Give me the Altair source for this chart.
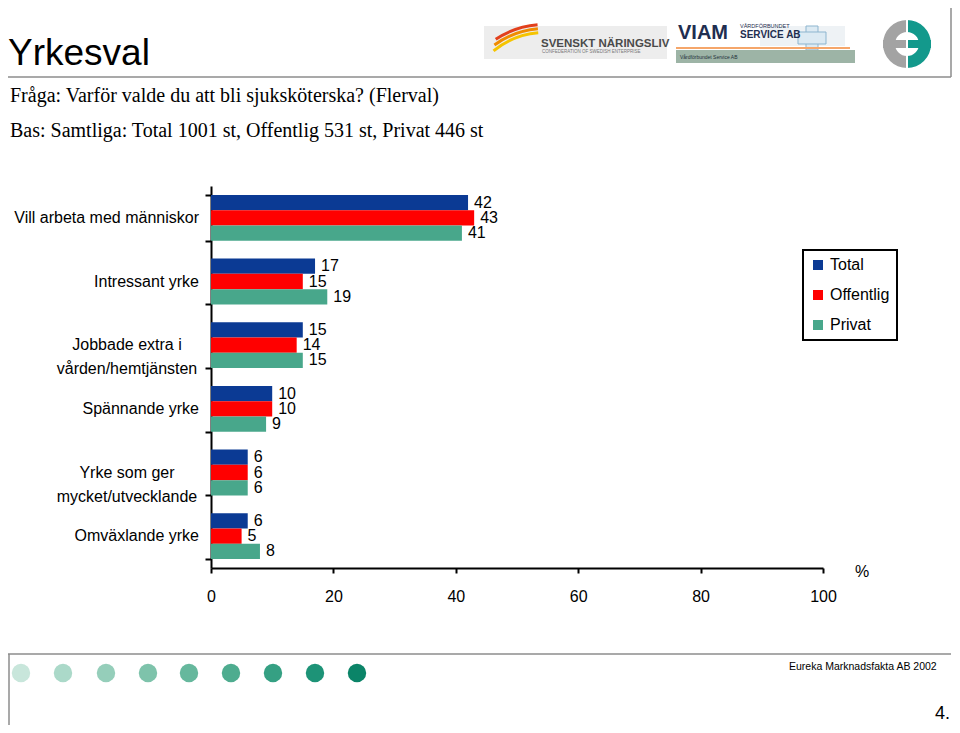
import altair as alt
import pandas as pd

# ---------------- data ----------------
categories = [
    "Vill arbeta med människor",
    "Intressant yrke",
    "Jobbade extra i\nvården/hemtjänsten",
    "Spännande yrke",
    "Yrke som ger\nmycket/utvecklande",
    "Omväxlande yrke",
]
series = ["Total", "Offentlig", "Privat"]
total = [42, 17, 15, 10, 6, 6]
offentlig = [43, 15, 14, 10, 6, 5]
privat = [41, 19, 15, 9, 6, 8]
x_ticks = [0, 20, 40, 60, 80, 100]
series_colors = ["#0B3A94", "#FF0000", "#48A78B"]
dot_colors = ["#C8E6DB", "#ABD9C9", "#95CEBA", "#7EC3AB", "#66B89D",
              "#4EAC8F", "#35A083", "#1D9377", "#0B8468"]

title_text = "Yrkesval"
question_text = "Fråga: Varför valde du att bli sjuksköterska? (Flerval)"
base_text = "Bas: Samtliga: Total 1001 st, Offentlig 531 st, Privat 446 st"
footer_text = "Eureka Marknadsfakta AB 2002"
page_text = "4."

rows = []
for i, c in enumerate(categories):
    for s, vals in zip(series, [total, offentlig, privat]):
        rows.append({"kategori": c, "serie": s, "varde": vals[i]})
df = pd.DataFrame(rows)
cat_df = pd.DataFrame({"kategori": categories,
                       "multi": ["\n" in c for c in categories]})

# ---------------- layout helpers ----------------
OX, OY = 211, 186          # page position of plot origin
W, H = 612, 382
FONT = "Liberation Sans"
one = pd.DataFrame({"t": [""]})


def txt(s, px, py, size, **kw):
    return alt.Chart(pd.DataFrame({"t": [s]})).mark_text(
        fontSize=size, baseline="middle", **kw
    ).encode(x=alt.value(px - OX), y=alt.value(py - OY), text="t:N")


def rule(x1, y1, x2, y2, color="#8C8C8C", w=1.5):
    return alt.Chart(one).mark_rule(color=color, strokeWidth=w).encode(
        x=alt.value(x1 - OX), x2=alt.value(x2 - OX),
        y=alt.value(y1 - OY), y2=alt.value(y2 - OY))


def rect(x1, y1, x2, y2, fill, **kw):
    return alt.Chart(one).mark_rect(fill=fill, **kw).encode(
        x=alt.value(x1 - OX), x2=alt.value(x2 - OX),
        y=alt.value(y1 - OY), y2=alt.value(y2 - OY))


def arc(cx, cy, r_out, r_in, t1, t2, color):
    return alt.Chart(one).mark_arc(
        radius=r_out, radius2=r_in, theta=t1, theta2=t2, color=color
    ).encode(x=alt.value(cx - OX), y=alt.value(cy - OY))


# ---------------- main chart ----------------
y_scale = alt.Scale(domain=categories, paddingInner=0.28, paddingOuter=0.14)
y_axis = alt.Axis(labels=False, title=None, domainColor="black", domainWidth=2,
                  tickColor="black", tickWidth=2, tickSize=6, tickBand="extent",
                  grid=False)
y_enc = alt.Y("kategori:N", scale=y_scale, axis=y_axis, sort=categories)
yoff_enc = alt.YOffset("serie:N", scale=alt.Scale(domain=series), sort=series)
x_enc = alt.X("varde:Q", scale=alt.Scale(domain=[0, 100], nice=False),
              axis=alt.Axis(values=x_ticks, title=None, grid=False,
                            domainColor="black", domainWidth=2,
                            tickColor="black", tickWidth=2, tickSize=5,
                            labelPadding=15, labelFontSize=16,
                            labelFlush=False, labelColor="black"))

bars = alt.Chart(df).mark_bar().encode(
    y=y_enc, yOffset=yoff_enc, x=x_enc,
    color=alt.Color("serie:N", scale=alt.Scale(domain=series, range=series_colors),
                    sort=series,
                    legend=alt.Legend(title=None, orient="none", legendX=592,
                                      legendY=64, symbolType="square",
                                      symbolSize=100, symbolStrokeWidth=0,
                                      labelFontSize=16, labelColor="black",
                                      labelOffset=4, padding=7, rowPadding=14,
                                      strokeColor="black", fillColor="white")),
)

values = alt.Chart(df).mark_text(
    align="left", baseline="middle", dx=6, fontSize=16, color="black"
).encode(y=y_enc, yOffset=yoff_enc, x=x_enc, text="varde:Q")

cat_single = alt.Chart(cat_df).transform_filter("!datum.multi").mark_text(
    align="right", baseline="middle", fontSize=16, color="black"
).encode(y=y_enc, x=alt.value(-12), text="kategori:N")

cat_multi = alt.Chart(cat_df).transform_filter("datum.multi").mark_text(
    align="center", baseline="middle", fontSize=16, color="black",
    lineBreak="\n", lineHeight=24
).encode(y=y_enc, x=alt.value(-84), text="kategori:N")

# ---------------- decorations ----------------
deco = []
# header
deco.append(rule(8, 77, 951, 77))
deco.append(rule(951, 0, 951, 77))
deco.append(txt(title_text, 8, 54, 37, align="left", color="black"))
deco.append(txt(question_text, 10, 96, 20, align="left", font="Liberation Serif",
                color="black"))
deco.append(txt(base_text, 10, 131, 20, align="left", font="Liberation Serif",
                color="black"))

# Svenskt Näringsliv logo
deco.append(rect(484, 26, 667, 59, "#EDEDED"))
deco.append(arc(545, 114, 83, 80, 5.6, 6.2, "#F5C400"))
deco.append(arc(545, 114, 87, 84, 5.65, 6.2, "#F08C00"))
deco.append(arc(545, 114, 91, 88, 5.7, 6.2, "#E2401C"))
deco.append(txt("SVENSKT NÄRINGSLIV", 541, 44, 11.5, align="left",
                fontWeight="bold", color="#4A4A4A"))
deco.append(txt("CONFEDERATION OF SWEDISH ENTERPRISE", 542, 52, 4.5,
                align="left", color="#777777"))

# VIAM logo
deco.append(rect(760, 26, 845, 46, "#EEF2F5"))
deco.append(rect(806, 26, 818, 50, "#DCEAF3", stroke="#8DB5CF", strokeWidth=1))
deco.append(rect(798, 32, 826, 44, "#DCEAF3", stroke="#8DB5CF", strokeWidth=1))
deco.append(rect(807, 33, 817, 43, "#DCEAF3"))
deco.append(rule(676, 48, 850, 48, color="#F5A66A", w=2))
deco.append(rect(676, 50, 855, 63, "#9DB4A6"))
deco.append(txt("Vårdförbundet Service AB", 680, 57, 5, align="left",
                color="#23303A"))
deco.append(txt("VIAM", 678, 33, 20, align="left", fontWeight="bold",
                color="#1F2E50"))
deco.append(txt("VÅRDFÖRBUNDET", 740, 26, 5.5, align="left", color="#1F2E50"))
deco.append(txt("SERVICE AB", 740, 35, 10, align="left", fontWeight="bold",
                color="#1F2E50"))

# Eureka logo
deco.append(arc(907, 44, 24, 12, 3.1416, 6.2832, "#A3A3A3"))
deco.append(arc(907, 44, 24, 12, 0, 3.1416, "#13998C"))
deco.append(rect(883, 40, 906, 48, "#A3A3A3"))
deco.append(rect(908, 40, 931, 48, "#13998C"))
deco.append(rule(907, 19, 907, 69, color="white", w=2))

# % sign
deco.append(txt("%", 862, 572, 16, align="center", color="black"))

# footer
deco.append(rule(8, 654, 951, 654))
deco.append(rule(9, 654, 9, 725))
dot_x = [21, 63, 106, 148, 189, 231, 273, 315, 357]
for cx, col in zip(dot_x, dot_colors):
    deco.append(alt.Chart(one).mark_circle(size=340, color=col, opacity=1).encode(
        x=alt.value(cx - OX), y=alt.value(673 - OY)))
deco.append(txt(footer_text, 789, 667, 10.5, align="left", color="black"))
deco.append(txt(page_text, 950, 714, 18, align="right", color="black"))

chart = alt.layer(bars, values, cat_single, cat_multi, *deco).properties(
    width=W, height=H,
    padding={"left": OX - 8, "top": OY - 8, "right": 952 - OX - W,
             "bottom": 725 - OY - H},
    autosize=alt.AutoSizeParams(type="none"),
).configure(font=FONT).configure_view(stroke=None).configure_legend(
    strokeWidth=2, labelFont=FONT
).configure_axis(labelFont=FONT)

chart.save("out.html", embed_options={"renderer": "svg", "actions": False})
